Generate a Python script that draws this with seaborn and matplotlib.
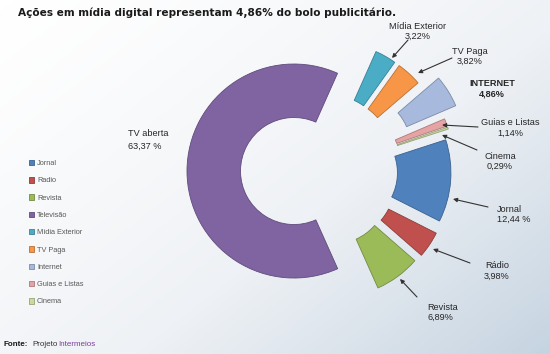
import numpy as np
import matplotlib
matplotlib.use('Agg')
import matplotlib.pyplot as plt
import seaborn as sns
from matplotlib.colors import LinearSegmentedColormap, to_rgb

# data
categories = ['Jornal', 'Radio', 'Revista', 'Televisão', 'Mídia Exterior',
              'TV Paga', 'Internet', 'Guias e Listas', 'Cinema']
names = ['Jornal', 'Rádio', 'Revista', 'TV aberta', 'Mídia Exterior',
         'TV Paga', 'INTERNET', 'Guias e Listas', 'Cinema']
shares = [12.44, 3.98, 6.89, 63.37, 3.22, 3.82, 4.86, 1.14, 0.29]
share_text = ['12,44 %', '3,98%', '6,89%', '63,37 %', '3,22%',
              '3,82%', '4,86%', '1,14%', '0,29%']

colors = ['#4F81BD', '#C0504D', '#9BBB59', '#8064A2', '#4BACC6',
          '#F79646', '#A7B9DC', '#E6A3A3', '#C9DA9E']

W, H = 550, 354


def py(y):
    # pixel row (from top) -> axes y
    return H - y


def darker(c, f=0.75):
    r, g, b = to_rgb(c)
    return (r * f, g * f, b * f)


sns.set_theme(style='white')
plt.rcParams['font.family'] = ['Liberation Sans', 'DejaVu Sans']

fig = plt.figure(figsize=(W / 100, H / 100), dpi=100)
ax = fig.add_axes([0, 0, 1, 1])

# background gradient
gx, gy = np.meshgrid(np.linspace(0, 1, 220), np.linspace(0, 1, 140))
grad = np.clip(0.55 * gx + 0.45 * gy, 0, 1) ** 1.3
bg = LinearSegmentedColormap.from_list('bg', ['#FFFFFF', '#EEF1F5', '#C6D4E1'])
ax.imshow(grad, cmap=bg, extent=(0, W, 0, H), origin='upper', aspect='auto', zorder=0)

explode = [24, 25, 24, 26, 25, 25, 44, 28, 28]
wedges, _ = ax.pie(shares, colors=colors, explode=explode, startangle=18,
                   counterclock=False, radius=107, center=(320, py(171)),
                   wedgeprops=dict(width=53.5, linewidth=0.6))
for w, c in zip(wedges, colors):
    w.set_edgecolor(darker(c))
    w.set_zorder(2)

ax.set_xlim(0, W)
ax.set_ylim(0, H)
ax.set_aspect('equal')
ax.axis('off')

# labels: (x, y center, ha)
label_pos = [(497, 214.5, 'left'), (497, 271, 'center'), (427, 312.5, 'left'),
             (128, 140, 'left'), (418, 31.5, 'center'), (470, 56.5, 'center'),
             (492, 89, 'center'), (510, 128, 'center'), (500, 161.5, 'center')]
for i, (x, y, ha) in enumerate(label_pos):
    bold = names[i] == 'INTERNET'
    ax.text(x, py(y), names[i] + '\n' + share_text[i], ha=ha, va='center',
            fontsize=6.6, color='#262626', fontweight='bold' if bold else 'normal',
            linespacing=1.5 if names[i] == 'TV aberta' else 1.2, zorder=4)

arrows = {0: ((488, 207), (453, 199)), 1: ((470, 263), (433, 249)),
          2: ((417, 297), (400, 279)), 4: ((408, 40), (392, 58)),
          5: ((452, 58), (418, 73)), 7: ((478, 127), (442, 125)),
          8: ((477, 150), (442, 135))}
for i, (tail, tip) in arrows.items():
    ax.annotate('', xy=(tip[0], py(tip[1])), xytext=(tail[0], py(tail[1])),
                arrowprops=dict(arrowstyle='-|>', color='#333333', lw=0.8,
                                mutation_scale=6, shrinkA=0, shrinkB=0), zorder=5)

leg = ax.legend(wedges, categories, loc='upper left',
                bbox_to_anchor=(26 / W, 1 - 157 / H), frameon=False,
                fontsize=5.3, labelspacing=1.36, handlelength=0.75,
                handleheight=0.75, handletextpad=0.35, borderaxespad=0)
for t in leg.get_texts():
    t.set_color('#595959')

ax.text(18, py(13), 'Ações em mídia digital representam 4,86% do bolo publicitário.',
        fontsize=7.6, fontweight='bold', color='#1A1A1A', va='center', ha='left',
        family=['DejaVu Sans'])

ax.text(3, py(345), 'Fonte:', fontsize=5.8, fontweight='bold', color='#1A1A1A', va='center')
ax.text(32, py(345), 'Projeto', fontsize=5.8, color='#333333', va='center')
ax.text(58, py(345), 'Intermeios', fontsize=5.8, color='#7A3F9A', va='center')

fig.savefig('out.png', dpi=100)
